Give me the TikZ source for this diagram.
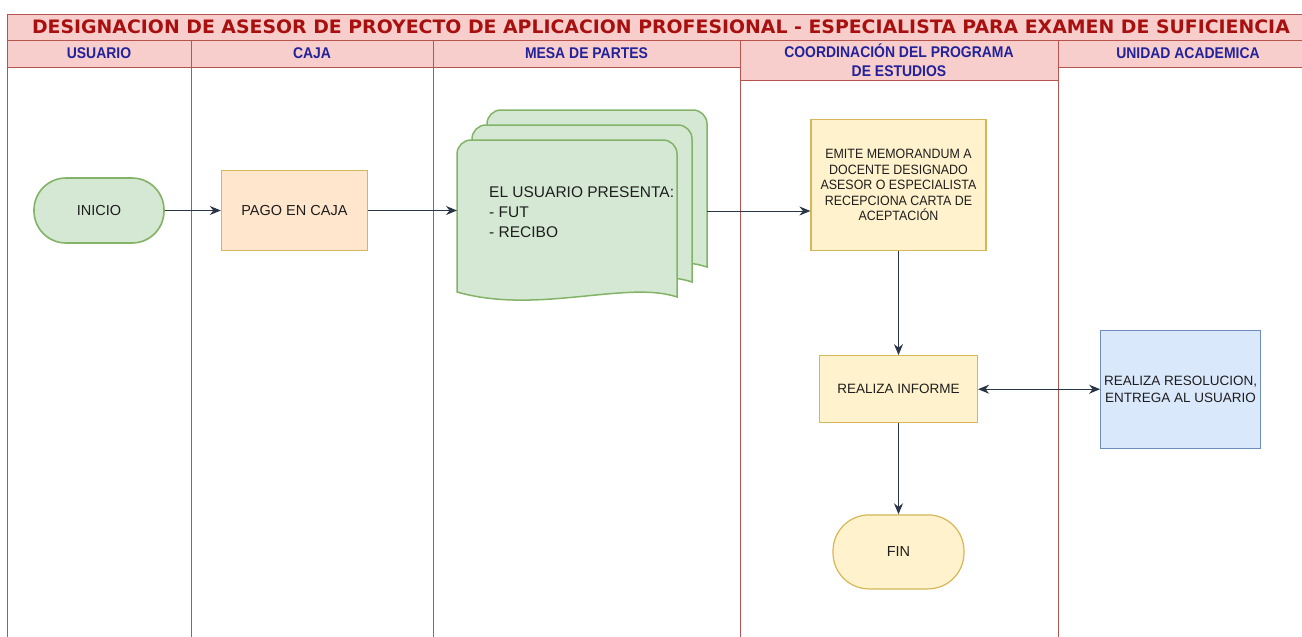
\documentclass[tikz,border=0pt]{standalone}
\usepackage{fontspec}
\setmainfont{Liberation Sans}
\newfontfamily\hdrfont[FakeStretch=0.9]{Liberation Sans}
\newfontfamily\ttlfont[FakeStretch=1.02]{DejaVu Sans}
\newfontfamily\narrowfont[FakeStretch=0.92]{Liberation Sans}
\usetikzlibrary{positioning,arrows.meta}

\definecolor{lanered}{HTML}{B85450}
\definecolor{hdrfill}{HTML}{F8CECC}
\definecolor{ttlred}{HTML}{A80F0F}
\definecolor{hdrblue}{HTML}{22229A}
\definecolor{grnfill}{HTML}{D5E8D4}
\definecolor{grnline}{HTML}{82B366}
\definecolor{orgfill}{HTML}{FFE6CC}
\definecolor{ylwfill}{HTML}{FFF2CC}
\definecolor{ylwline}{HTML}{D6B656}
\definecolor{blufill}{HTML}{DAE8FC}
\definecolor{bluline}{HTML}{6C8EBF}
\definecolor{arrc}{HTML}{2A3645}
\definecolor{txt}{HTML}{1E1E1E}

\begin{document}
\begin{tikzpicture}[x=1pt, y=-1pt,
    lane/.style = {draw=lanered, line width=0.8pt},
    hdr/.style = {draw=lanered, fill=hdrfill, line width=0.8pt, text=hdrblue, inner sep=0pt,
                  font=\hdrfont\bfseries\fontsize{15.5pt}{19pt}\selectfont, align=center},
    proc/.style = {draw=ylwline, line width=1.2pt, text=txt, align=center,
                   font=\fontsize{14.5pt}{17pt}\selectfont},
    term/.style = {proc, minimum width=130pt},
    docu/.style = {draw=grnline, fill=grnfill, line width=1.5pt},
    arr/.style = {draw=arrc, line width=1pt, -{Stealth[length=11pt,width=9pt]}},
    arr2/.style = {draw=arrc, line width=1pt, {Stealth[length=11pt,width=9pt]}-{Stealth[length=11pt,width=9pt]}}]
\useasboundingbox (0,0) rectangle (1302,637);

% lanes
\foreach \x in {7,191,433,740,1058}
    \draw[lane] (\x,40) -- (\x,640);
\draw[lane, fill=hdrfill] (7,14) rectangle (1318,40);
\node[text=ttlred, font=\ttlfont\bfseries\fontsize{18.5pt}{20pt}\selectfont] (t) at (661,27)
    {DESIGNACION DE ASESOR DE PROYECTO DE APLICACION PROFESIONAL - ESPECIALISTA PARA EXAMEN DE SUFICIENCIA};
\node[hdr, minimum width=184pt, minimum height=27pt] (h1) at (99,53.5) {USUARIO};
\node[hdr, minimum width=242pt, minimum height=27pt] (h2) at (312,53.5) {CAJA};
\node[hdr, minimum width=307pt, minimum height=27pt] (h3) at (586.5,53.5) {MESA DE PARTES};
\node[hdr, minimum width=318pt, minimum height=40pt] (h4) at (899,60) {COORDINACIÓN DEL PROGRAMA\\DE ESTUDIOS};
\node[hdr, minimum width=260pt, minimum height=27pt] (h5) at (1188,53.5) {UNIDAD ACADEMICA};

% flujo
\node[term, fill=grnfill, draw=grnline, line width=1.6pt, minimum height=65pt, rounded corners=32pt] (1) at (99,210.5) {INICIO};
\node[proc, fill=orgfill, minimum width=146pt, minimum height=80pt, right=56pt of 1] (2) {PAGO EN CAJA};

\coordinate (d) at (457,140);
\foreach \o in {30,15,0} {
    \begin{scope}[shift={(457+\o,140-\o)}]
        \draw[docu] (0,152) [rounded corners=14pt]-- (0,0) -- (220,0) [sharp corners]-- (220,157)
            .. controls (170,140) and (80,175) .. (0,152) -- cycle;
    \end{scope}
}
\node[anchor=west, align=left, inner sep=0pt, text=txt, font=\fontsize{15.5pt}{20pt}\selectfont] (3) at (489,212)
    {EL USUARIO PRESENTA:\\- FUT\\- RECIBO};
\coordinate (e) at (707,211);

\node[proc, fill=ylwfill, minimum width=175pt, minimum height=131pt,
      font=\narrowfont\fontsize{13.5pt}{15.5pt}\selectfont] (4) at (898.5,185)
    {EMITE MEMORANDUM A\\DOCENTE DESIGNADO\\ASESOR O ESPECIALISTA\\RECEPCIONA CARTA DE\\ACEPTACIÓN};
\node[proc, fill=ylwfill, minimum width=158pt, minimum height=67pt, below=104pt of 4,
      font=\fontsize{13.5pt}{17pt}\selectfont] (5) {REALIZA INFORME};
\node[proc, fill=blufill, draw=bluline, minimum width=157pt, minimum height=118pt, right=122pt of 5,
      font=\fontsize{13.5pt}{17pt}\selectfont] (6) {REALIZA RESOLUCION,\\ENTREGA AL USUARIO};
\node[term, fill=ylwfill, minimum width=131pt, minimum height=74pt, rounded corners=36pt, below=91pt of 5] (7) {FIN};

\draw[arr] (1) -- (2);
\draw[arr] (2) -- (2 -| d);
\draw[arr] (e) -- (e -| 4.west);
\draw[arr] (4) -- (5);
\draw[arr2] (5) -- (6);
\draw[arr] (5) -- (7);
\end{tikzpicture}
\end{document}
